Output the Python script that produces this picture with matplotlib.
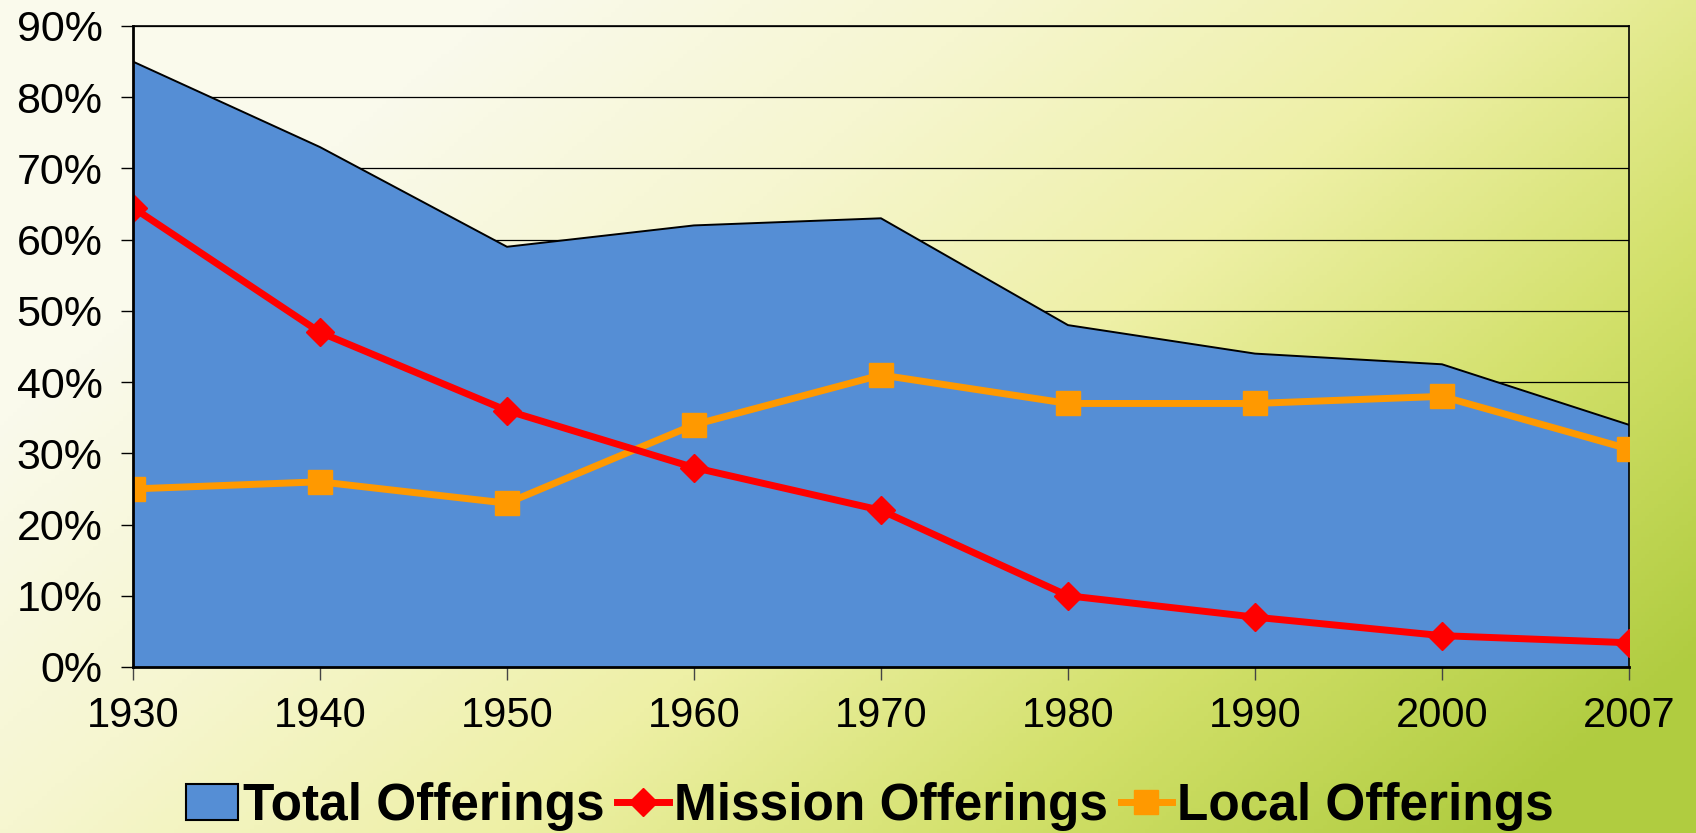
import numpy as np
import matplotlib.pyplot as plt
from matplotlib.colors import LinearSegmentedColormap

plt.rcParams['font.family'] = ['Liberation Sans', 'DejaVu Sans']

years = ['1930', '1940', '1950', '1960', '1970', '1980', '1990', '2000', '2007']
total = [85, 73, 59, 62, 63, 48, 44, 42.5, 34]
mission = [64.5, 47, 36, 28, 22, 10, 7, 4.4, 3.4]
local = [25, 26, 23, 34, 41, 37, 37, 38, 30.6]

x = np.arange(len(years))

fig = plt.figure(figsize=(16.96, 8.33), dpi=100)

# background wash, pale cream top-left to yellow-green bottom-right
bg = fig.add_axes([0, 0, 1, 1], zorder=0)
gx, gy = np.meshgrid(np.linspace(0, 1, 400), np.linspace(0, 1, 200))
wash = np.clip(0.85 * gx + 0.5 * gy - 0.25, 0, 1)
cmap = LinearSegmentedColormap.from_list(
    'bg', ['#fafaec', '#f6f6d0', '#eef0a6', '#d2e06a', '#b0cc40'])
bg.imshow(wash, cmap=cmap, aspect='auto', extent=[0, 1, 0, 1], origin='upper')
bg.set_axis_off()

ax = fig.add_axes([0.0784, 0.1993, 0.8821, 0.7695], zorder=1)
ax.patch.set_alpha(0)

ax.fill_between(x, total, color='#558ed5', edgecolor='none', zorder=2,
                label='Total Offerings')
ax.plot(x, total, color='black', lw=1.4, zorder=3)
ax.plot(x, mission, color='#ff0000', lw=5, marker='D', ms=14,
        zorder=5, label='Mission Offerings')
ax.plot(x, local, color='#ff9900', lw=5, marker='s', ms=17,
        zorder=4, label='Local Offerings')

ax.set_xlim(0, len(years) - 1)
ax.set_ylim(0, 90)
ax.set_yticks(np.arange(0, 91, 10))
ax.set_yticklabels([f'{v}%' for v in range(0, 91, 10)])
ax.set_xticks(x)
ax.set_xticklabels(years)
ax.yaxis.grid(True, color='black', lw=0.9, zorder=1)
ax.set_axisbelow(True)

for s in ax.spines.values():
    s.set_color('black')
    s.set_linewidth(1.2)
ax.spines['left'].set_linewidth(2)
ax.spines['bottom'].set_linewidth(2)
ax.spines['left'].set_zorder(6)
ax.spines['bottom'].set_zorder(6)

ax.tick_params(axis='y', length=9, width=1, pad=13, labelsize=31)
ax.tick_params(axis='x', length=9, width=1, pad=12, labelsize=30, color='#444444')

handles, labels = ax.get_legend_handles_labels()
leg = fig.legend(handles, labels, loc='center', bbox_to_anchor=(0.513, 0.032),
                 ncol=3, frameon=False, prop={'weight': 'bold', 'size': 37},
                 handlelength=1.0, handletextpad=0.1, columnspacing=0.25,
                 borderpad=0)
leg.legend_handles[0].set_edgecolor('black')
leg.legend_handles[0].set_linewidth(1.5)

fig.savefig('out.png', dpi=100)
